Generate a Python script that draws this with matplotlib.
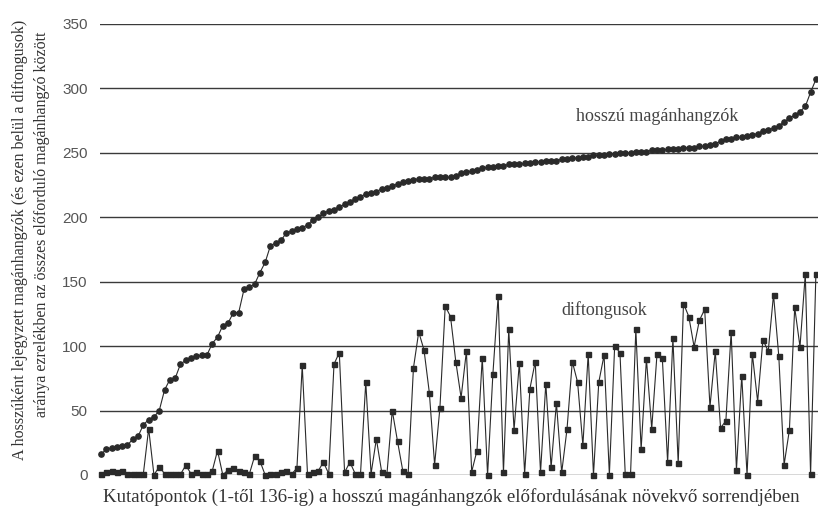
import numpy as np
import matplotlib.pyplot as plt

# kutatópontok, sorrendben
points = np.arange(1, 137)

# hosszú magánhangzók aránya (ezrelék)
hosszu = [
    16, 20, 21, 22, 22.5, 23, 28, 30, 39, 43,
    45, 50, 66, 74, 75, 86, 89, 91, 92, 93,
    93, 102, 107, 116, 118, 126, 126, 144, 146, 148,
    157, 165, 178, 180, 182, 188, 189, 191, 192, 194,
    198, 200, 203, 205, 206, 208, 210, 212, 214, 216,
    218, 219, 220, 222, 223, 224, 226, 227, 228, 229,
    230, 230, 230, 231, 231, 231, 231, 232, 234, 235,
    236, 237, 238, 239, 239, 240, 240, 241, 241, 241,
    242, 242, 243, 243, 244, 244, 244, 245, 245, 246,
    246, 247, 247, 248, 248, 248, 249, 249, 250, 250,
    250, 251, 251, 251, 252, 252, 252, 253, 253, 253,
    254, 254, 254, 255, 255, 256, 257, 259, 261, 261,
    262, 262, 263, 264, 265, 267, 268, 269, 271, 274,
    277, 279, 282, 286, 297, 307,
]

# ezen belül a diftongusok aránya
diftongus = [
    1, 2, 3, 2, 3, 1, 1, 1, 1, 36,
    0, 6.5, 1, 0.5, 1, 0.5, 7.5, 1, 2, 1,
    1, 3, 19, 0, 4, 5.5, 3, 2, 0.5, 14.5,
    11, 0, 0.5, 1, 2, 3, 0.5, 5.5, 85, 0.5,
    2, 3, 10, 1, 86, 95, 2, 10, 1, 0.5,
    72, 1, 28, 2.5, 1, 50, 26, 3, 0.5, 83,
    111, 97, 64, 8, 52, 131, 123, 88, 60, 96,
    2.5, 19, 91, 0, 78, 139, 2, 113, 35, 87,
    1, 67, 88, 2, 71, 6, 56, 2, 35.5, 88,
    72, 23, 94, 0, 72, 93, 0, 100, 95, 0.5,
    0.5, 113, 20, 90, 36, 94, 91, 10, 106, 9,
    133, 123, 99.5, 120, 128.5, 53, 96, 36.5, 42, 111,
    4, 77, 0, 94, 57, 105, 96, 140, 92, 8,
    35, 130, 99.5, 156, 0.5, 156,
]

ink = '#2a2a2a'
serif = 'Liberation Serif'

fig = plt.figure(figsize=(8.18, 5.17), dpi=100)
ax = fig.add_axes([100 / 818, 42 / 517, 718 / 818, 451 / 517])

for yv in range(0, 351, 50):
    ax.axhline(yv, color='#3a3a3a', linewidth=1.0, zorder=1)

ax.plot(points, hosszu, color=ink, linewidth=0.8, marker='o',
        markersize=3.8, markerfacecolor=ink, markeredgecolor=ink,
        clip_on=False, zorder=3)
ax.plot(points, diftongus, color=ink, linewidth=0.8, marker='s',
        markersize=3.6, markerfacecolor=ink, markeredgecolor=ink,
        clip_on=False, zorder=3)

ax.set_xlim(0.81, 136.4)
ax.set_ylim(0, 350)
ax.set_yticks(range(0, 351, 50))
ax.set_xticks([])
for side in ['top', 'right', 'bottom', 'left']:
    ax.spines[side].set_visible(False)
ax.tick_params(axis='y', length=0, pad=9, labelsize=11, labelcolor='#555555')
for lab in ax.get_yticklabels():
    lab.set_family('Liberation Sans')

# sorozatok feliratai
ax.text(106, 278.5, 'hosszú magánhangzók', family=serif, fontsize=13,
        color='#444444', ha='center', va='center')
ax.text(96, 128, 'diftongusok', family=serif, fontsize=13,
        color='#444444', ha='center', va='center')

fig.text(451 / 818, 1 - 497 / 517,
         'Kutatópontok (1-től 136-ig) a hosszú magánhangzók előfordulásának növekvő sorrendjében',
         family=serif, fontsize=13.6, color='#333333', ha='center', va='center')
fig.text(20 / 818, 1 - 240 / 517,
         'A hosszúként lejegyzett magánhangzók (és ezen belül a diftongusok)',
         family=serif, fontsize=11.5, color='#333333', ha='center', va='center',
         rotation=90)
fig.text(42 / 818, 1 - 224 / 517,
         'aránya ezrelékben az összes előforduló magánhangzó között',
         family=serif, fontsize=11.5, color='#333333', ha='center', va='center',
         rotation=90)

fig.savefig('out.png', dpi=100)
